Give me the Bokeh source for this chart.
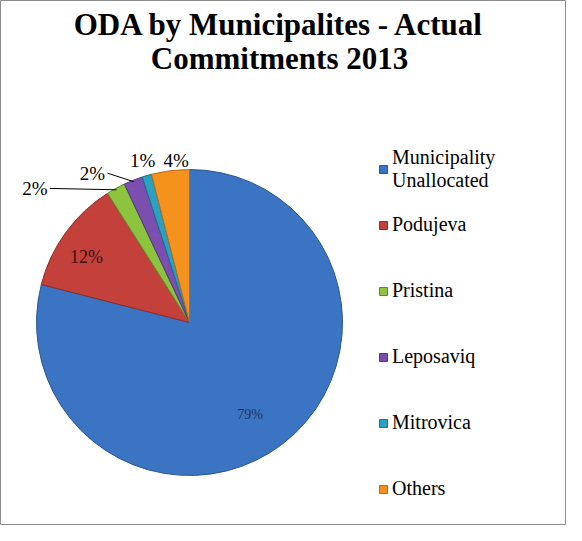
import math
from bokeh.plotting import figure
from bokeh.models import ColumnDataSource, Legend, LegendItem, Range1d
from bokeh.core.properties import value
from bokeh.embed import file_html
from bokeh.resources import INLINE

# ---------------- data ----------------
categories = ["Municipality\nUnallocated", "Podujeva", "Pristina", "Leposaviq", "Mitrovica", "Others"]
shares = [79, 12, 2, 2, 1, 4]
pct_labels = ["79%", "12%", "2%", "2%", "1%", "4%"]
colors = ["#3b74c2", "#c4403b", "#8cc43f", "#7a4fb0", "#2aa0c2", "#f5921e"]
edge_colors = ["#2a568f", "#8e2c29", "#5f8a2a", "#54357c", "#1c7088", "#b86a12"]
title_lines = ["ODA by Municipalites - Actual", "Commitments 2013"]

# ---------------- layout ----------------
W, H = 566, 525
CX, CY, R = 189, 203, 153
FONT = "Liberation Serif"
# per label: (radius factor, dx, dy, color, size, leader)
label_layout = [
    (0.72, -7, -5, "#1b3560", "14px", False),
    (0.76, -9, -3, "#3a1010", "18px", False),
    (1.00, -81, 0, "black", "19px", True),
    (1.05, -38, 0, "black", "19px", True),
    (1.10, 0, 0, "black", "19px", False),
    (1.065, 7, 0, "black", "19px", False),
]

total = float(sum(shares))
starts, ends, mids = [], [], []
cum = 0.0
for v in shares:
    starts.append(math.pi / 2 - 2 * math.pi * cum / total)
    mids.append(2 * math.pi * (cum + v / 2.0) / total)  # clockwise from top
    cum += v
    ends.append(math.pi / 2 - 2 * math.pi * cum / total)

src = ColumnDataSource(dict(name=categories, share=shares, color=colors, edge=edge_colors,
                            start=starts, end=ends))

p = figure(width=W, height=H, x_range=Range1d(0, W), y_range=Range1d(0, H),
           x_axis_type=None, y_axis_type=None, output_backend="svg",
           toolbar_location=None, tools="", min_border=0)
p.outline_line_color = "#8c8c8c"

wedges = p.wedge(x=CX, y=CY, radius=R, start_angle="start", end_angle="end",
                 direction="clock", fill_color="color", line_color="edge",
                 line_width=1, source=src)

for i, (txt, mid) in enumerate(zip(pct_labels, mids)):
    k, dx, dy, col, size, leader = label_layout[i]
    lx = CX + k * R * math.sin(mid) + dx
    ly = CY + k * R * math.cos(mid) + dy
    p.text(x=[lx], y=[ly], text=[txt], text_align="center", text_baseline="middle",
           text_font=value(FONT), text_font_size=size, text_color=col)
    if leader:
        ex = CX + 0.99 * R * math.sin(mid)
        ey = CY + 0.99 * R * math.cos(mid)
        p.line(x=[lx + 15, ex], y=[ly, ey], line_color="black", line_width=1)

# two-line title
p.text(x=[279, 279], y=[501, 467], text=title_lines, text_align="center",
       text_baseline="middle", text_font=value(FONT),
       text_font_style="bold", text_font_size="31px", text_color="black")

common = dict(label_text_font=FONT, label_text_font_size="20px",
              label_text_color="black", glyph_width=10, glyph_height=10,
              label_standoff=4, padding=0, margin=0, border_line_alpha=0,
              background_fill_alpha=0)

leg1 = Legend(items=[LegendItem(label=categories[0], renderers=[wedges], index=0)],
              location=(378, 333), label_height=22, **common)
leg2 = Legend(items=[LegendItem(label=categories[i], renderers=[wedges], index=i)
                     for i in range(1, len(categories))],
              location=(378, 25), label_height=22, spacing=43, **common)
p.add_layout(leg1)
p.add_layout(leg2)

open("out.html", "w").write(file_html(p, INLINE))
